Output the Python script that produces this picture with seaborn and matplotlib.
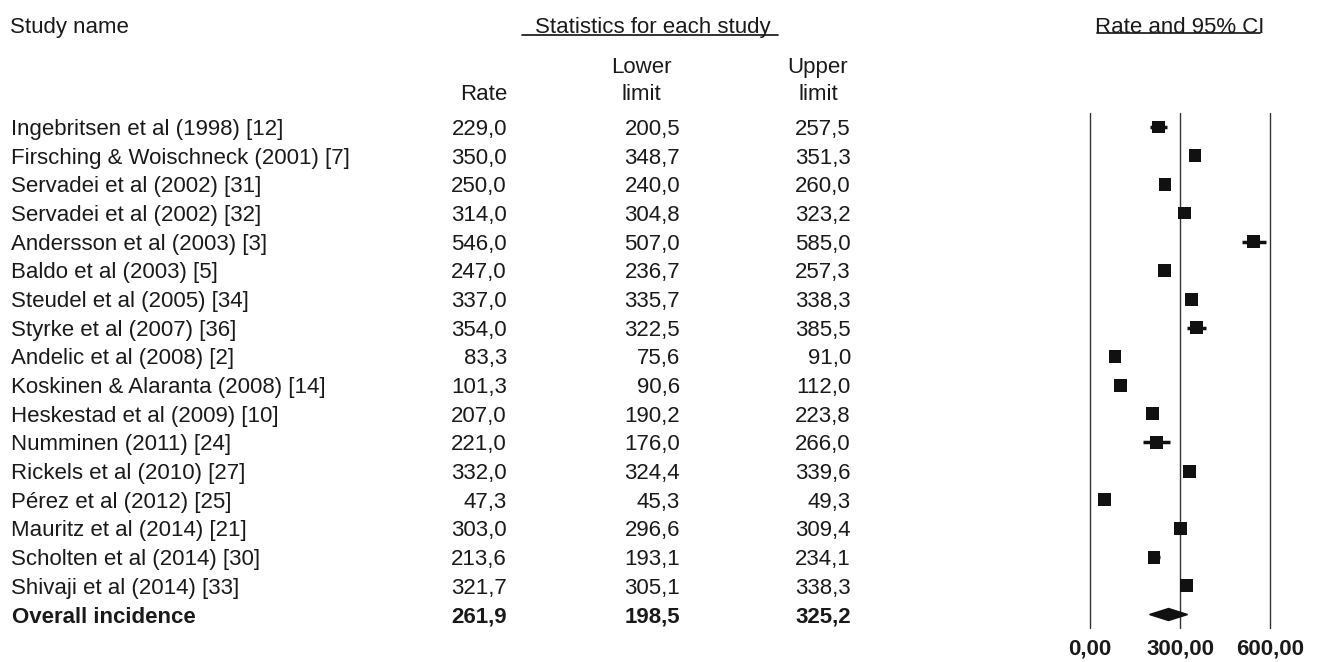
import matplotlib
matplotlib.use("Agg")
import matplotlib.pyplot as plt
import matplotlib.transforms as mtransforms
import seaborn as sns
import pandas as pd

# data
studies = [
    "Ingebritsen et al (1998) [12]",
    "Firsching & Woischneck (2001) [7]",
    "Servadei et al (2002) [31]",
    "Servadei et al (2002) [32]",
    "Andersson et al (2003) [3]",
    "Baldo et al (2003) [5]",
    "Steudel et al (2005) [34]",
    "Styrke et al (2007) [36]",
    "Andelic et al (2008) [2]",
    "Koskinen & Alaranta (2008) [14]",
    "Heskestad et al (2009) [10]",
    "Numminen (2011) [24]",
    "Rickels et al (2010) [27]",
    "Pérez et al (2012) [25]",
    "Mauritz et al (2014) [21]",
    "Scholten et al (2014) [30]",
    "Shivaji et al (2014) [33]",
]
rate = [229.0, 350.0, 250.0, 314.0, 546.0, 247.0, 337.0, 354.0, 83.3, 101.3,
        207.0, 221.0, 332.0, 47.3, 303.0, 213.6, 321.7]
lower = [200.5, 348.7, 240.0, 304.8, 507.0, 236.7, 335.7, 322.5, 75.6, 90.6,
         190.2, 176.0, 324.4, 45.3, 296.6, 193.1, 305.1]
upper = [257.5, 351.3, 260.0, 323.2, 585.0, 257.3, 338.3, 385.5, 91.0, 112.0,
         223.8, 266.0, 339.6, 49.3, 309.4, 234.1, 338.3]

overall_name = "Overall incidence"
overall = (261.9, 198.5, 325.2)

xticks = [0, 300, 600]
xtick_labels = ["0,00", "300,00", "600,00"]

df = pd.DataFrame({"study": studies, "rate": rate, "lower": lower, "upper": upper})
df["row"] = range(len(df))
n = len(df)


def fmt(v):
    return f"{v:.1f}".replace(".", ",")


sns.set_style("white")
plt.rcParams["font.family"] = ["Liberation Sans", "DejaVu Sans"]
plt.rcParams["font.size"] = 16
plt.rcParams["text.color"] = "#1a1a1a"
plt.rcParams["xtick.color"] = "#1a1a1a"

W, H = 1317, 662
fig = plt.figure(figsize=(W / 100, H / 100), dpi=100)

# background axes in pixel coordinates for headers
bg = fig.add_axes([0, 0, 1, 1])
bg.set_xlim(0, W)
bg.set_ylim(H, 0)
bg.axis("off")

# forest plot axes
ax = fig.add_axes([1090 / W, 1 - 628 / H, 180 / W, (628 - 113) / H])
ax.set_xlim(0, 600)
ax.set_ylim(n + 0.47, -0.49)

for x in xticks:
    ax.axvline(x, color="#333333", lw=1.0, zorder=1, clip_on=False)

ax.hlines(df["row"], df["lower"], df["upper"], color="#111111", lw=2.5, zorder=2, clip_on=False)
sns.scatterplot(data=df, x="rate", y="row", marker="s", s=85, color="#111111",
                edgecolor="none", ax=ax, zorder=3, clip_on=False, legend=False)

# overall diamond
r, lo, hi = overall
ax.fill([lo, r, hi, r], [n, n - 0.21, n, n + 0.21], color="#111111", zorder=3, clip_on=False)

ax.set_xticks(xticks)
ax.set_xticklabels(xtick_labels, fontweight="bold")
ax.set_yticks([])
ax.set_xlabel("")
ax.set_ylabel("")
ax.tick_params(axis="x", length=0, pad=7.5)
for s in ax.spines.values():
    s.set_visible(False)

# table text: x in pixels, y in rows of the forest axes
tr = mtransforms.blended_transform_factory(bg.transData, ax.transData)
for i, row in df.iterrows():
    y = row["row"]
    bg.text(11, y, row["study"], transform=tr, ha="left", va="center_baseline")
    bg.text(507, y, fmt(row["rate"]), transform=tr, ha="right", va="center_baseline")
    bg.text(680, y, fmt(row["lower"]), transform=tr, ha="right", va="center_baseline")
    bg.text(851, y, fmt(row["upper"]), transform=tr, ha="right", va="center_baseline")

bg.text(12, n, overall_name, transform=tr, ha="left", va="center_baseline", fontweight="bold")
for xp, v in zip([507, 680, 851], overall):
    bg.text(xp, n, fmt(v), transform=tr, ha="right", va="center_baseline", fontweight="bold")

# headers
bg.text(10, 25, "Study name", ha="left", va="center_baseline")
bg.text(653, 25, "Statistics for each study", ha="center", va="center_baseline")
bg.plot([522, 778], [35, 35], color="#111111", lw=1.2)
bg.text(1180, 25, "Rate and 95% CI", ha="center", va="center_baseline")
bg.plot([1097, 1260], [33, 33], color="#111111", lw=1.2)
bg.text(507, 92, "Rate", ha="right", va="center_baseline")
bg.text(641, 65, "Lower", ha="center", va="center_baseline")
bg.text(641, 92, "limit", ha="center", va="center_baseline")
bg.text(818, 65, "Upper", ha="center", va="center_baseline")
bg.text(818, 92, "limit", ha="center", va="center_baseline")

fig.savefig("out.png", dpi=100)
